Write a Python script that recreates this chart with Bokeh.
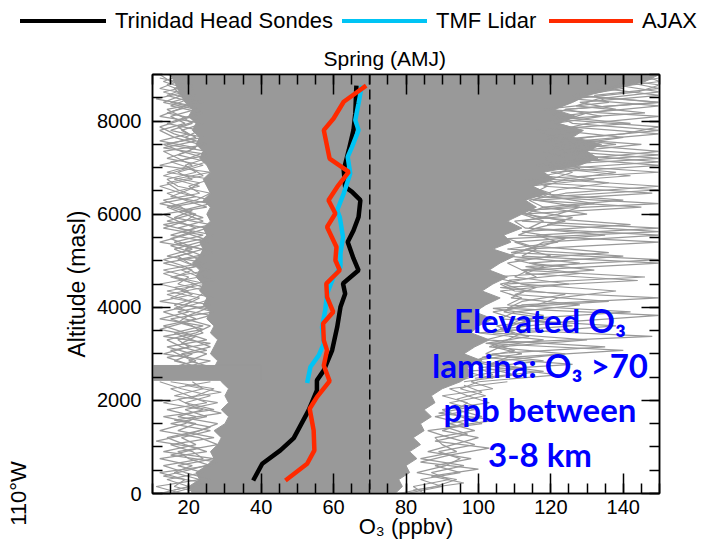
import math
from bokeh.plotting import figure
from bokeh.layouts import column
from bokeh.models import (Label, LinearAxis, SingleIntervalTicker, FixedTicker, Range1d, Span,
                          Div)
from bokeh.embed import file_html
from bokeh.resources import INLINE

# ---------------- data ----------------
THRESHOLD = 70

BLACK_ALT = [280, 640, 925, 1190, 1785, 2215, 2430, 2645, 3075, 3575, 4005, 4290, 4510,
             4795, 5050, 5400, 5650, 5940, 6300, 6480, 6585, 6945, 7375, 7805, 8170, 8760]
BLACK_O3 = [37.8, 40.3, 45.3, 49.0, 53.1, 55.4, 55.4, 57.3, 59.6, 61.0, 61.9, 63.2, 62.6,
            66.9, 65.5, 63.9, 65.5, 66.9, 67.4, 65.1, 63.2, 62.8, 64.2, 65.5, 66.0, 66.3]

CYAN_ALT = [2372, 2716, 2967, 3218, 3575, 3935, 4290, 4650, 4865, 5150, 5510, 5940, 6085,
            6445, 6875, 7230, 7445, 7805, 8020, 8380, 8760]
CYAN_O3 = [52.7, 53.6, 55.9, 57.3, 56.8, 57.7, 58.2, 60.0, 61.9, 61.9, 62.6, 61.7, 61.0,
           62.8, 64.6, 63.9, 65.1, 66.9, 66.0, 66.9, 67.8]

RED_ALT = [280, 638, 925, 1355, 1820, 2070, 2415, 2750, 3075, 3290, 3650, 3900, 4220, 4510,
           4795, 5010, 5295, 5725, 6015, 6300, 6585, 6910, 7195, 7805, 8055, 8415, 8760]
RED_O3 = [46.7, 52.7, 54.7, 54.5, 53.4, 55.4, 58.9, 57.3, 58.2, 57.3, 57.1, 59.9, 58.2, 58.0,
          61.7, 60.5, 60.8, 58.2, 60.5, 58.6, 61.0, 64.2, 58.9, 57.3, 60.0, 62.8, 69.0]

SERIES_NAMES = ["Trinidad Head Sondes", "TMF Lidar", "AJAX"]
SERIES_COLORS = ["#000000", "#00c4f4", "#ff2a00"]

# envelope of the dense cloud of individual sonde profiles (every 150 m)
ENV_ALT = [0, 150, 300, 450, 600, 750, 900, 1050, 1200, 1350, 1500, 1650, 1800, 1950, 2100,
           2250, 2400, 2550, 2700, 2850, 3000, 3150, 3300, 3450, 3600, 3750, 3900, 4050,
           4200, 4350, 4500, 4650, 4800, 4950, 5100, 5250, 5400, 5550, 5700, 5850, 6000,
           6150, 6300, 6450, 6600, 6750, 6900, 7050, 7200, 7350, 7500, 7650, 7800, 7950,
           8100, 8250, 8400, 8550, 8700, 8850, 9000]
CORE_LEFT = [21, 20, 23, 22, 25, 27, 26, 28, 29, 27, 30, 31, 29, 31, 30,
             31, 29, 28, 27, 28, 26, 27, 28, 26, 27, 25, 26, 24,
             25, 23, 24, 22, 23, 21, 23, 24, 23, 25, 24, 26, 25,
             26, 24, 26, 25, 24, 26, 25, 23, 24, 22, 23, 21, 22,
             20, 21, 19, 18, 17, 16, 15]
CORE_RIGHT = [77, 79, 78, 81, 80, 83, 81, 84, 82, 85, 84, 87, 85, 88, 87,
              90, 95, 98, 97, 101, 96, 99, 103, 98, 100, 104, 99, 102,
              106, 101, 104, 108, 103, 106, 110, 104, 109, 107, 112, 108, 112,
              116, 113, 119, 115, 121, 118, 128, 133, 130, 134, 126, 129, 122,
              127, 121, 126, 130, 138, 146, 150]
# dense layer near 2.5 km reaching the left edge
BAND_BOTTOM, BAND_TOP, BAND_LEFT, BAND_RIGHT = 2430, 2750, 10, 40

# individual outlying profiles, low ozone side
LU_ALT = [2700, 2850, 3000, 3150, 3300, 3450, 3600, 3750, 3900, 4050, 4200, 4350, 4500,
          4650, 4800, 4950, 5100, 5250, 5400, 5550, 5700, 5850, 6000, 6150, 6300, 6450,
          6600, 6750, 6900, 7050, 7200, 7350, 7500, 7650, 7800, 7950, 8100, 8250, 8400,
          8550, 8700, 8850, 9000]
LU_O3 = [
    [24, 16, 21, 14, 25, 19, 13, 22, 17, 26, 15, 20, 12, 23, 18, 25, 14, 21, 16, 24, 13, 19,
     22, 15, 26, 18, 12, 21, 17, 24, 14, 20, 23, 16, 12, 19, 15, 22, 13, 18, 16, 20, 14],
    [18, 26, 13, 20, 17, 24, 21, 15, 27, 19, 23, 14, 25, 16, 21, 13, 24, 19, 26, 15, 22, 17,
     13, 25, 19, 14, 23, 16, 26, 12, 20, 25, 14, 22, 18, 24, 12, 17, 21, 14, 19, 13, 18],
    [27, 20, 25, 18, 14, 22, 26, 19, 13, 21, 27, 18, 22, 15, 26, 20, 17, 24, 12, 19, 25, 14,
     21, 18, 13, 23, 20, 26, 14, 21, 17, 13, 25, 19, 23, 14, 20, 24, 15, 22, 12, 17, 21],
    [15, 22, 18, 26, 21, 16, 24, 12, 20, 16, 22, 25, 17, 20, 13, 24, 21, 16, 23, 27, 17, 24,
     19, 14, 22, 26, 17, 14, 22, 19, 25, 18, 13, 24, 15, 21, 18, 14, 24, 17, 22, 15, 12],
]
LU2_ALT = [2775, 2925, 3075, 3225, 3375, 3525, 3675, 3825, 3975, 4125, 4275, 4425, 4575,
           4725, 4875, 5025, 5175, 5325, 5475, 5625, 5775, 5925, 6075, 6225, 6375, 6525,
           6675, 6825, 6975, 7125, 7275, 7425, 7575, 7725, 7875, 8025, 8175, 8325, 8475,
           8625, 8775, 8925]
LU2_O3 = [
    [20, 14, 25, 18, 22, 12, 19, 26, 16, 21, 14, 24, 19, 13, 22, 17, 27, 20, 15, 21, 13, 24,
     18, 26, 15, 20, 23, 13, 19, 25, 17, 22, 12, 20, 17, 23, 14, 21, 11, 19, 14, 17],
    [23, 19, 15, 26, 13, 24, 17, 20, 25, 12, 21, 16, 27, 22, 19, 13, 21, 15, 24, 18, 26, 16,
     21, 12, 22, 17, 14, 24, 21, 15, 26, 13, 22, 16, 12, 18, 24, 15, 20, 13, 21, 12],
]
LL_ALT = [0, 150, 300, 450, 600, 750, 900, 1050, 1200, 1350, 1500, 1650, 1800, 1950, 2100,
          2250, 2400]
LL_O3 = [
    [12, 20, 14, 24, 17, 27, 13, 22, 18, 26, 15, 25, 19, 28, 16, 24, 21],
    [18, 11, 23, 16, 21, 12, 25, 19, 14, 23, 28, 17, 24, 13, 22, 27, 15],
    [24, 16, 19, 12, 26, 20, 17, 28, 23, 12, 19, 22, 14, 25, 20, 15, 26],
    [15, 22, 26, 19, 13, 24, 21, 15, 27, 17, 22, 13, 27, 19, 26, 18, 12],
]
LL2_ALT = [75, 225, 375, 525, 675, 825, 975, 1125, 1275, 1425, 1575, 1725, 1875, 2025, 2175,
           2325]
LL2_O3 = [
    [16, 25, 13, 21, 28, 15, 23, 11, 20, 26, 16, 29, 21, 17, 29, 19],
]
# individual outlying profiles, high ozone side
RU_ALT = [2400, 2550, 2700, 2850, 3000, 3150, 3300, 3450, 3600, 3750, 3900, 4050, 4200,
          4350, 4500, 4650, 4800, 4950, 5100, 5250, 5400, 5550, 5700, 5850, 6000, 6150,
          6300, 6450, 6600, 6750, 6900, 7050, 7200, 7350, 7500, 7650, 7800, 7950, 8100,
          8250, 8400, 8550, 8700, 8850, 9000]
RU_O3 = [
    [98, 104, 100, 118, 102, 106, 130, 104, 108, 112, 142, 108, 112, 106, 125, 110, 114, 150,
     112, 116, 110, 135, 114, 118, 112, 145, 115, 120, 114, 132, 120, 150, 125, 118, 138, 122,
     116, 142, 120, 124, 150, 126, 135, 150, 145],
    [96, 110, 102, 106, 124, 103, 108, 112, 138, 106, 110, 128, 109, 113, 107, 146, 112, 108,
     120, 113, 150, 111, 116, 124, 113, 118, 140, 115, 119, 113, 150, 122, 118, 126, 145, 119,
     128, 121, 134, 124, 150, 128, 140, 132, 150],
    [94, 100, 112, 99, 104, 135, 102, 110, 105, 120, 107, 112, 150, 110, 106, 116, 112, 128,
     108, 114, 118, 150, 113, 110, 130, 118, 114, 124, 150, 120, 126, 118, 150, 124, 120, 130,
     150, 126, 122, 138, 128, 150, 134, 142, 150],
    [100, 122, 106, 98, 112, 104, 118, 100, 126, 110, 104, 116, 122, 138, 112, 104, 132, 114,
     140, 108, 122, 116, 150, 112, 122, 128, 116, 148, 118, 124, 138, 116, 130, 150, 126, 140,
     122, 130, 150, 118, 136, 132, 150, 140, 150],
]
RU2_ALT = [2475, 2625, 2775, 2925, 3075, 3225, 3375, 3525, 3675, 3825, 3975, 4125, 4275,
           4425, 4575, 4725, 4875, 5025, 5175, 5325, 5475, 5625, 5775, 5925, 6075, 6225,
           6375, 6525, 6675, 6825, 6975, 7125, 7275, 7425, 7575, 7725, 7875, 8025, 8175,
           8325, 8475, 8625, 8775, 8925]
RU2_O3 = [
    [104, 96, 126, 101, 110, 103, 148, 106, 112, 118, 104, 136, 110, 116, 108, 128, 113, 150,
     109, 118, 124, 112, 142, 117, 110, 150, 116, 122, 136, 118, 128, 124, 150, 121, 128, 150,
     125, 119, 146, 127, 133, 150, 138, 150],
    [99, 118, 103, 108, 140, 102, 114, 106, 122, 150, 108, 112, 124, 106, 144, 113, 118, 110,
     136, 114, 108, 150, 119, 126, 114, 132, 120, 150, 116, 142, 122, 150, 126, 132, 118, 140,
     150, 124, 130, 150, 126, 144, 150, 136],
]
RL_ALT = LL_ALT
RL_O3 = [
    [80, 90, 84, 95, 88, 98, 86, 93, 100, 90, 96, 88, 99, 92, 102, 95, 100],
    [85, 82, 92, 87, 96, 84, 94, 90, 88, 99, 92, 101, 94, 97, 90, 104, 98],
    [78, 88, 94, 83, 91, 95, 89, 99, 92, 86, 101, 95, 90, 103, 97, 92, 108],
]
RL2_ALT = LL2_ALT
RL2_O3 = [
    [82, 96, 87, 100, 84, 92, 103, 88, 97, 91, 105, 89, 99, 94, 101, 96],
]

LON_LABEL = "110\u00b0W"
X_TICK_STEP = 20
Y_TICK_STEP = 2000

GRAY = "#999999"
SANS = "Liberation Sans"
LINE_W = 4.5

# legend strip layout (pixels in a 706 x 40 strip)
LEG_LINE_X0 = [20, 342, 549]
LEG_LINE_X1 = [106, 427, 633]
LEG_TEXT_X = [115, 436, 642]
LEG_Y = 21
STRIP_H = 40

# ---------------- legend strip (HTML) ----------------
parts = [f'<div style="position:relative;width:706px;height:{STRIP_H}px;'
         f'font-family:\'{SANS}\';font-size:22px;color:#000;">']
for x0, x1, tx, name, col in zip(LEG_LINE_X0, LEG_LINE_X1, LEG_TEXT_X, SERIES_NAMES,
                                 SERIES_COLORS):
    parts.append(f'<div style="position:absolute;left:{x0}px;top:{LEG_Y - LINE_W / 2}px;'
                 f'width:{x1 - x0}px;height:{LINE_W}px;background:{col};"></div>')
    parts.append(f'<div style="position:absolute;left:{tx}px;top:{LEG_Y}px;'
                 f'transform:translateY(-50%);white-space:nowrap;line-height:1;">{name}</div>')
parts.append('</div>')
strip = Div(text="".join(parts), width=706, height=STRIP_H, margin=0)

# ---------------- main figure ----------------
p = figure(frame_width=507, frame_height=419, x_range=Range1d(10, 150), y_range=Range1d(0, 9000),
           output_backend="svg", toolbar_location=None,
           min_border_left=152, min_border_right=47, min_border_top=34, min_border_bottom=55)
p.background_fill_color = "white"
p.border_fill_color = "white"
p.xgrid.visible = False
p.ygrid.visible = False
p.outline_line_color = "black"
p.outline_line_width = 1.5

# dense cloud of profiles
p.patch(CORE_LEFT + CORE_RIGHT[::-1], ENV_ALT + ENV_ALT[::-1],
        fill_color=GRAY, line_color=GRAY, line_width=1)
p.quad(left=[BAND_LEFT], right=[BAND_RIGHT], bottom=[BAND_BOTTOM], top=[BAND_TOP],
       fill_color=GRAY, line_color=GRAY)

xs, ys = [], []
for group, alts in ((LU_O3, LU_ALT), (LU2_O3, LU2_ALT), (LL_O3, LL_ALT), (LL2_O3, LL2_ALT),
                    (RU_O3, RU_ALT), (RU2_O3, RU2_ALT), (RL_O3, RL_ALT), (RL2_O3, RL2_ALT)):
    for vals in group:
        n = min(len(vals), len(alts))
        xs.append(vals[:n])
        ys.append(alts[:n])
p.multi_line(xs, ys, line_color=GRAY, line_width=1.2)

p.add_layout(Span(location=THRESHOLD, dimension="height", line_color="black",
                  line_width=1.5, line_dash="10 5"))

for o3, alt, col in zip((BLACK_O3, CYAN_O3, RED_O3), (BLACK_ALT, CYAN_ALT, RED_ALT),
                        SERIES_COLORS):
    p.line(o3, alt, line_color=col, line_width=LINE_W)

# ---------------- axes ----------------
def style_axis(ax, step, labels=True):
    ax.ticker = SingleIntervalTicker(interval=step, num_minor_ticks=4)
    ax.axis_line_color = "black"
    ax.axis_line_width = 1.5
    ax.major_tick_line_color = "black"
    ax.major_tick_line_width = 1.5
    ax.minor_tick_line_color = "black"
    ax.minor_tick_line_width = 1.5
    ax.major_tick_out = 0
    ax.minor_tick_out = 0
    ax.minor_tick_in = 10
    if not labels:
        ax.major_label_text_font_size = "1px"
        ax.major_label_text_color = None
        ax.major_label_standoff = 0

xa = p.xaxis[0]
style_axis(xa, X_TICK_STEP)
xa.major_tick_in = 20
xa.major_label_text_font = SANS
xa.major_label_text_font_size = "20px"
xa.major_label_text_color = "black"
xa.major_label_standoff = 6
xa.axis_label = "O\u2083 (ppbv)"
xa.axis_label_text_font = SANS
xa.axis_label_text_font_size = "22px"
xa.axis_label_text_font_style = "normal"
xa.axis_label_text_color = "black"
xa.axis_label_standoff = -3

ya = p.yaxis[0]
style_axis(ya, Y_TICK_STEP)
ya.major_tick_in = 18
ya.major_label_text_font = SANS
ya.major_label_text_font_size = "20px"
ya.major_label_text_color = "black"
ya.major_label_standoff = 11
ya.axis_label = "Altitude (masl)"
ya.axis_label_text_font = SANS
ya.axis_label_text_font_size = "23px"
ya.axis_label_text_font_style = "normal"
ya.axis_label_text_color = "black"
ya.axis_label_standoff = 4

top = LinearAxis()
style_axis(top, X_TICK_STEP, labels=False)
top.major_tick_in = 20
p.add_layout(top, "above")
right = LinearAxis()
style_axis(right, Y_TICK_STEP, labels=False)
right.major_tick_in = 18
p.add_layout(right, "right")

# map-edge longitude label at the far left
lon = LinearAxis(ticker=FixedTicker(ticks=[0]), major_label_overrides={0: LON_LABEL})
lon.axis_line_color = None
lon.major_tick_line_color = None
lon.minor_tick_line_color = None
lon.major_label_orientation = "vertical"
lon.major_label_text_font = SANS
lon.major_label_text_font_size = "22px"
lon.major_label_text_color = "black"
lon.major_label_standoff = 25
p.add_layout(lon, "left")

# title
p.title.text = "Spring (AMJ)"
p.title.text_font = SANS
p.title.text_font_size = "21px"
p.title.text_font_style = "normal"
p.title.text_color = "black"
p.title.align = "left"
p.title.offset = 171
p.title.standoff = 9

# annotation
ANNOT_LINES = ["Elevated O\u2083", "lamina: O\u2083 >70", "ppb between", "3-8 km"]
ANNOT_ALT = [3720, 2753, 1806, 839]
for line, alt in zip(ANNOT_LINES, ANNOT_ALT):
    p.add_layout(Label(x=117.0, y=alt, text=line, text_align="center",
                       text_baseline="alphabetic", text_font="Lato", text_font_style="bold",
                       text_font_size="33px", text_color="#0000ff"))

layout = column(strip, p, spacing=0)
open("out.html", "w").write(file_html(layout, INLINE))
